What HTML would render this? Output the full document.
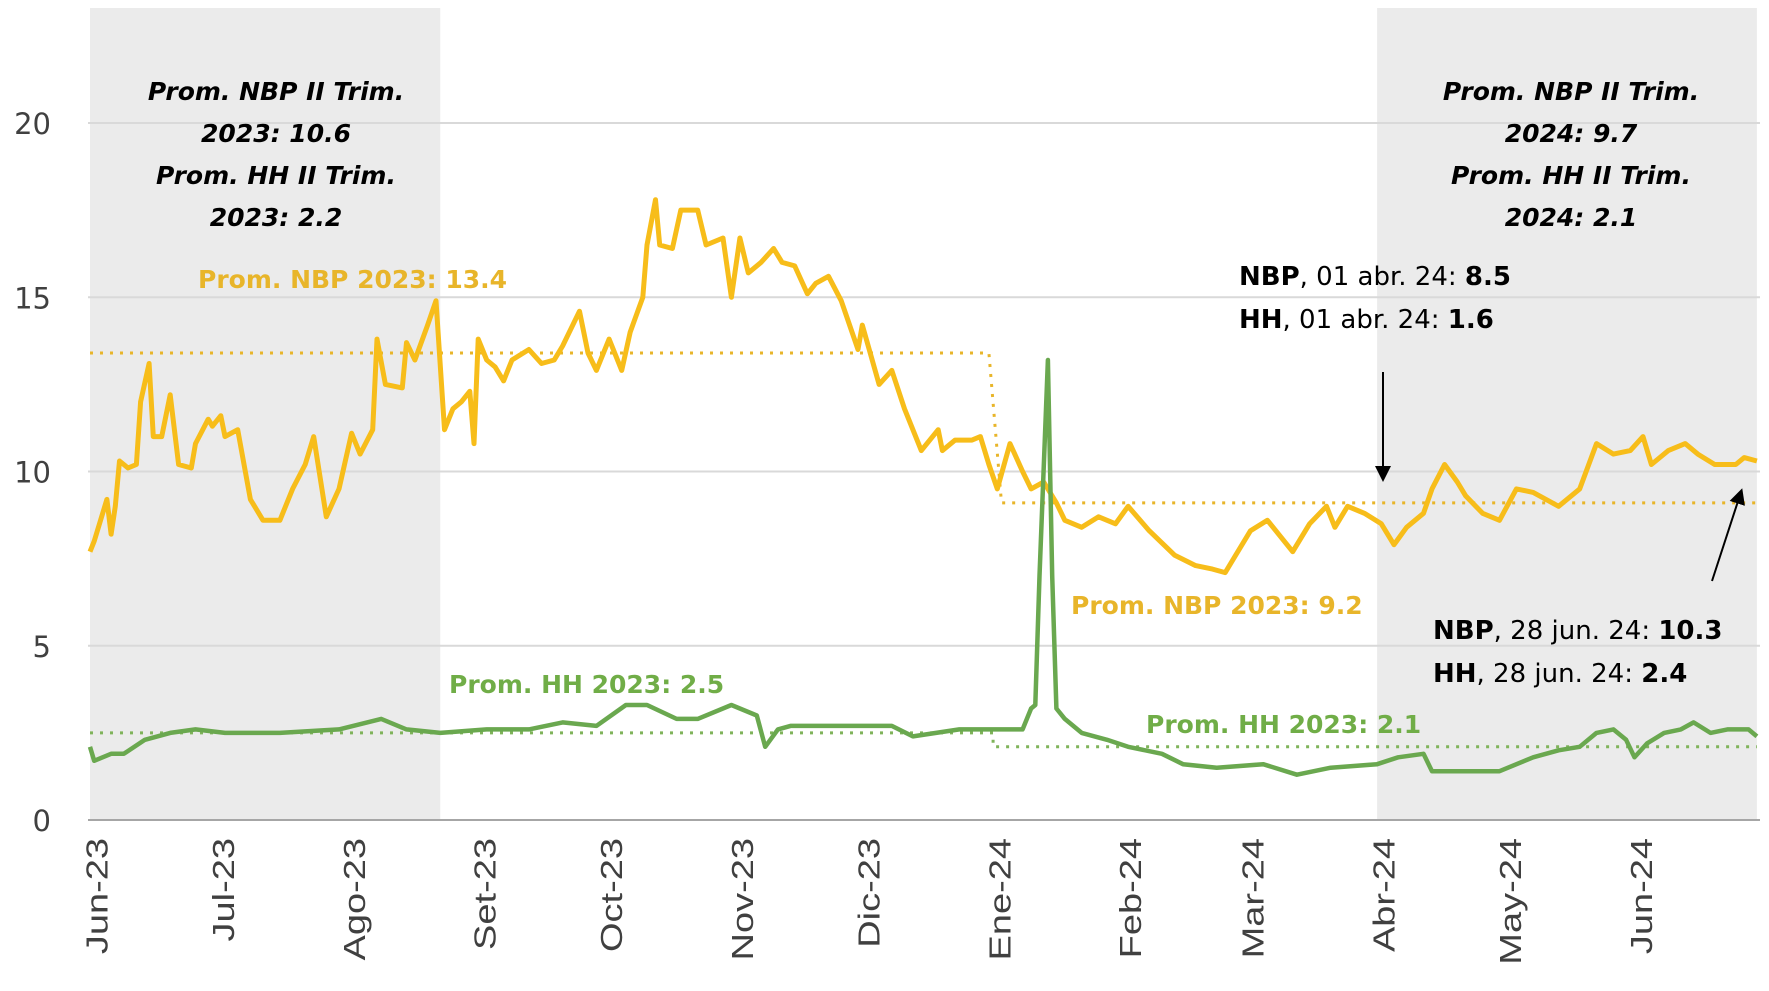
<!DOCTYPE html>
<html><head><meta charset="utf-8"><style>
body{margin:0;background:#fff;}
svg{display:block;font-family:"Liberation Sans",sans-serif;}
</style></head><body>
<svg id="chart" width="1769" height="991" viewBox="0 0 1769 991" xmlns="http://www.w3.org/2000/svg">
<g id="bg"></g><g id="grid"></g><g id="series"></g><g id="labels"></g>
</svg>
<script>
const nbpDays=[0,1,4,5,6,7,9,11,12,14,15,17,19,21,24,25,28,29,31,32,35,38,41,45,48,51,53,56,59,62,64,67,68,70,74,75,77,80,82,84,86,88,90,91,92,94,96,98,100,104,107,110,112,116,118,120,123,126,128,131,132,134,135,138,140,144,146,150,152,154,156,159,162,164,167,170,172,175,178,182,183,187,190,193,197,201,202,205,209,211,213,215,218,221,223,226,229,231,235,239,243,246,251,257,262,266,269,271,275,279,281,285,289,293,295,298,302,306,309,312,316,318,321,324,326,330,334,338,342,348,353,357,361,365,368,370,374,378,381,385,390,392,395];
const nbpValues=[7.7,8.0,9.2,8.2,9.0,10.3,10.1,10.2,12.0,13.1,11.0,11.0,12.2,10.2,10.1,10.8,11.5,11.3,11.6,11.0,11.2,9.2,8.6,8.6,9.5,10.2,11.0,8.7,9.5,11.1,10.5,11.2,13.8,12.5,12.4,13.7,13.2,14.2,14.9,11.2,11.8,12.0,12.3,10.8,13.8,13.2,13.0,12.6,13.2,13.5,13.1,13.2,13.6,14.6,13.4,12.9,13.8,12.9,14.0,15.0,16.5,17.8,16.5,16.4,17.5,17.5,16.5,16.7,15.0,16.7,15.7,16.0,16.4,16.0,15.9,15.1,15.4,15.6,14.9,13.5,14.2,12.5,12.9,11.8,10.6,11.2,10.6,10.9,10.9,11.0,10.2,9.5,10.8,10.0,9.5,9.7,9.1,8.6,8.4,8.7,8.5,9.0,8.3,7.6,7.3,7.2,7.1,7.5,8.3,8.6,8.3,7.7,8.5,9.0,8.4,9.0,8.8,8.5,7.9,8.4,8.8,9.5,10.2,9.7,9.3,8.8,8.6,9.5,9.4,9.0,9.5,10.8,10.5,10.6,11.0,10.2,10.6,10.8,10.5,10.2,10.2,10.4,10.3];
const hhDays=[0,1,5,8,13,19,25,32,45,59,69,75,83,94,104,112,120,127,132,139,144,152,158,160,163,166,171,182,190,195,206,214,221,223,224,225,227,228,229,231,235,241,246,254,259,267,278,286,294,305,310,316,318,326,334,342,348,353,357,361,364,366,369,373,377,380,384,388,393,395];
const hhValues=[2.1,1.7,1.9,1.9,2.3,2.5,2.6,2.5,2.5,2.6,2.9,2.6,2.5,2.6,2.6,2.8,2.7,3.3,3.3,2.9,2.9,3.3,3.0,2.1,2.6,2.7,2.7,2.7,2.7,2.4,2.6,2.6,2.6,3.2,3.3,7,13.2,7,3.2,2.9,2.5,2.3,2.1,1.9,1.6,1.5,1.6,1.3,1.5,1.6,1.8,1.9,1.4,1.4,1.4,1.8,2.0,2.1,2.5,2.6,2.3,1.8,2.2,2.5,2.6,2.8,2.5,2.6,2.6,2.4];
const nbpAvgDays=[0,213,216,395];
const nbpAvgValues=[13.4,13.4,9.1,9.1];
const hhAvgDays=[0,214,214,395];
const hhAvgValues=[2.5,2.5,2.1,2.1];
const monthLabels=["Jun-23","Jul-23","Ago-23","Set-23","Oct-23","Nov-23","Dic-23","Ene-24","Feb-24","Mar-24","Abr-24","May-24","Jun-24"];
const monthDays=[0,30,61,92,122,153,183,214,245,274,305,335,366];
const yTicks=[0,5,10,15,20];
const shadeRanges=[[0,83],[305,395]];

const NS="http://www.w3.org/2000/svg";
const X=d=>90+d*4.22;
const Y=v=>820-v*34.85;
function mk(tag,attrs,parent,text){const e=document.createElementNS(NS,tag);for(const k in attrs)e.setAttribute(k,attrs[k]);if(text!==undefined)e.textContent=text;parent.appendChild(e);return e;}
const bg=document.getElementById('bg'),grid=document.getElementById('grid'),ser=document.getElementById('series');
shadeRanges.forEach((r,i)=>{const e=mk('rect',{x:Math.max(88,X(r[0])),y:8,width:Math.min(1760,X(r[1]))-Math.max(88,X(r[0])),height:812,fill:'#ebebeb'},bg);

});
yTicks.forEach(v=>{const l=mk('line',{x1:88,x2:1760,y1:Y(v),y2:Y(v),stroke:v===0?'#a6a6a6':'#d9d9d9','stroke-width':2},grid);


const t=mk('text',{x:51,y:Y(v)+11,'text-anchor':'end','font-size':29,fill:'#404040','font-family':'DejaVu Sans, sans-serif'},grid,String(v));

});
monthLabels.forEach((m,i)=>{const x=X(monthDays[i]+1.5);const t=mk('text',{transform:`translate(${x+11},838) rotate(-90) scale(1,0.8)`,'text-anchor':'end','font-size':38,fill:'#404040'},grid,m);

});
function pts(ds,vs){return ds.map((d,i)=>X(d).toFixed(1)+','+Y(vs[i]).toFixed(1)).join(' ');}
let p=mk('polyline',{points:pts(nbpAvgDays,nbpAvgValues),fill:'none',stroke:'#e8b52a','stroke-width':3,'stroke-dasharray':'3 7'},ser);


p=mk('polyline',{points:pts(hhAvgDays,hhAvgValues),fill:'none',stroke:'#7fb35a','stroke-width':3,'stroke-dasharray':'3 7'},ser);


p=mk('polyline',{points:pts(nbpDays,nbpValues),fill:'none',stroke:'#f7bd1a','stroke-width':5,'stroke-linejoin':'round'},ser);


p=mk('polyline',{points:pts(hhDays,hhValues),fill:'none',stroke:'#6aa84f','stroke-width':4.5,'stroke-linejoin':'round'},ser);


</script>
<svg style="position:absolute;left:0;top:0" width="1769" height="991">
<defs><marker id="ah" markerWidth="8" markerHeight="8" refX="6" refY="4" orient="auto"><path d="M0,0 L8,4 L0,8 z" fill="#000"/></marker></defs>
<g font-family="DejaVu Sans, sans-serif" font-weight="bold" font-style="italic" font-size="25" text-anchor="middle" fill="#000">
<text x="276" y="100"><tspan x="276">Prom. NBP II Trim.</tspan><tspan x="276" dy="42">2023: 10.6</tspan><tspan x="276" dy="42">Prom. HH II Trim.</tspan><tspan x="276" dy="42">2023: 2.2</tspan></text>
<text x="1571" y="100"><tspan x="1571">Prom. NBP II Trim.</tspan><tspan x="1571" dy="42">2024: 9.7</tspan><tspan x="1571" dy="42">Prom. HH II Trim.</tspan><tspan x="1571" dy="42">2024: 2.1</tspan></text>
</g>
<g font-family="DejaVu Sans, sans-serif" font-weight="bold" font-size="25">
<text x="198" y="288" fill="#e8b52a">Prom. NBP 2023: 13.4</text>
<text x="449" y="693" fill="#70ad47">Prom. HH 2023: 2.5</text>
<text x="1071" y="614" fill="#e8b52a">Prom. NBP 2023: 9.2</text>
<text x="1146" y="733" fill="#70ad47">Prom. HH 2023: 2.1</text>
</g>
<g font-family="DejaVu Sans, sans-serif" font-size="26" fill="#000">
<text x="1239" y="285"><tspan font-weight="bold">NBP</tspan>, 01 abr. 24: <tspan font-weight="bold">8.5</tspan></text>
<text x="1239" y="328"><tspan font-weight="bold">HH</tspan>, 01 abr. 24: <tspan font-weight="bold">1.6</tspan></text>
<text x="1433" y="639"><tspan font-weight="bold">NBP</tspan>,  28 jun. 24: <tspan font-weight="bold">10.3</tspan></text>
<text x="1433" y="682"><tspan font-weight="bold">HH</tspan>, 28 jun. 24: <tspan font-weight="bold">2.4</tspan></text>
</g>
<line x1="1383" y1="372" x2="1383" y2="478" stroke="#000" stroke-width="2" marker-end="url(#ah)"/>
<line x1="1712" y1="581" x2="1741" y2="492" stroke="#000" stroke-width="2" marker-end="url(#ah)"/>
</svg>
</body></html>
